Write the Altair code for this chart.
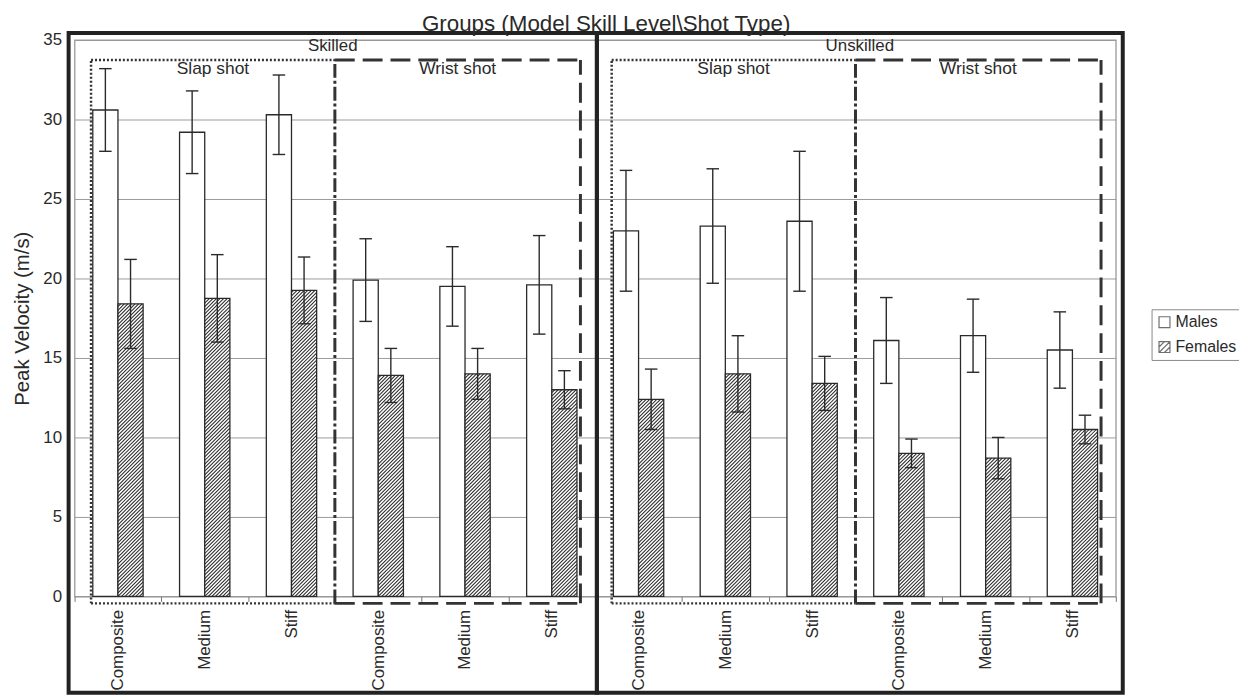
import json
import math
import altair as alt
import pandas as pd

# ---------------- data ----------------
skill_levels = ["Skilled", "Unskilled"]
shot_types = ["Slap shot", "Wrist shot"]
stick_models = ["Composite", "Medium", "Stiff"]
series_names = ["Males", "Females"]

male_mean = [30.6, 29.2, 30.3, 19.9, 19.5, 19.6, 23.0, 23.3, 23.6, 16.1, 16.4, 15.5]
male_sd = [2.6, 2.6, 2.5, 2.6, 2.5, 3.1, 3.8, 3.6, 4.4, 2.7, 2.3, 2.4]
female_mean = [18.4, 18.75, 19.25, 13.9, 14.0, 13.0, 12.4, 14.0, 13.4, 9.0, 8.7, 10.5]
female_sd = [2.8, 2.75, 2.1, 1.7, 1.6, 1.2, 1.9, 2.4, 1.7, 0.9, 1.3, 0.9]

y_ticks = [0, 5, 10, 15, 20, 25, 30, 35]
chart_title = "Groups (Model Skill Level\\Shot Type)"
y_title = "Peak Velocity (m/s)"

# ---------------- layout ----------------
W, H = 1048, 560
Y_MAX = 35
N = len(skill_levels) * len(shot_types) * len(stick_models)
PXX = W / N
PXY = H / Y_MAX
BAR_W = 0.29
CAP_HALF = 6.3 / PXX
FONT = "Liberation Sans"
INK = "#2a2a2a"

categories = []
for sk in skill_levels:
    for sh in shot_types:
        for m in stick_models:
            categories.append((sk, sh, m))
names = [c[2] for c in categories]

# bars
bar_rows = []
for i in range(N):
    for sex, means, sds, off in (("Males", male_mean, male_sd, -BAR_W),
                                 ("Females", female_mean, female_sd, 0.0)):
        x0 = i + 0.5 + off
        mean, sd = means[i], sds[i]
        cx = x0 + BAR_W / 2
        bar_rows.append(dict(idx=i, model=names[i], sex=sex, x=x0, x2=x0 + BAR_W,
                             zero=0.0, mean=mean, sd=sd, cx=cx,
                             lo=mean - sd, hi=mean + sd,
                             cl=cx - CAP_HALF, cr=cx + CAP_HALF))
bars = pd.DataFrame(bar_rows)
males = bars[bars.sex == "Males"]
females = bars[bars.sex == "Females"]

caps = pd.concat([
    bars.assign(cy=bars["lo"]),
    bars.assign(cy=bars["hi"]),
])

# hatch lines for the female bars ("////")
STEP = 3.6
hatch_rows = []
for _, r in females.iterrows():
    wpx = BAR_W * PXX
    hpx = r["mean"] * PXY
    k0 = math.ceil(-hpx / STEP)
    k1 = math.floor(wpx / STEP)
    for k in range(k0, k1 + 1):
        c = k * STEP
        u1 = max(0.0, c)
        u2 = min(wpx, hpx + c)
        if u2 - u1 < 0.6:
            continue
        hatch_rows.append(dict(x=r["x"] + u1 / PXX, y=(u1 - c) / PXY,
                               x2=r["x"] + u2 / PXX, y2=(u2 - c) / PXY))
hatch = pd.DataFrame(hatch_rows)

# frames and group boxes
FR_L, FR_R, DIV = -6 / PXX, 12 + 7 / PXX, 6 + 1.7 / PXX
FR_TOP, FR_BOT = Y_MAX + 7 / PXY, -97 / PXY
frame_edges = [FR_L, DIV, FR_R]
frames = pd.DataFrame([dict(x=frame_edges[g], x2=frame_edges[g + 1], y=FR_BOT, y2=FR_TOP,
                            label=skill_levels[g],
                            xc=(frame_edges[g] + frame_edges[g + 1]) / 2)
                       for g in range(len(skill_levels))])

BOX_TOP, BOX_BOT = Y_MAX - 20 / PXY, -7 / PXY
dotted, dashed, dashdot, shot_lab = [], [], [], []
for g in range(len(skill_levels)):
    s = g * 6
    xl, xm, xr = s + 0.19, s + 3.0, s + 5.83
    dotted += [dict(x=xl, x2=xl, y=BOX_BOT, y2=BOX_TOP),
               dict(x=xl, x2=xm, y=BOX_TOP, y2=BOX_TOP),
               dict(x=xl, x2=xm, y=BOX_BOT, y2=BOX_BOT)]
    dashed += [dict(x=xr, x2=xr, y=BOX_BOT, y2=BOX_TOP),
               dict(x=xm, x2=xr, y=BOX_TOP, y2=BOX_TOP),
               dict(x=xm, x2=xr, y=BOX_BOT, y2=BOX_BOT)]
    dashdot += [dict(x=xm, x2=xm, y=BOX_BOT, y2=BOX_TOP)]
    shot_lab += [dict(label=shot_types[0], xc=(xl + xm) / 2, y=Y_MAX - 34.5 / PXY),
                 dict(label=shot_types[1], xc=(xm + xr) / 2, y=Y_MAX - 34.5 / PXY)]
dotted, dashed, dashdot, shot_lab = map(pd.DataFrame, (dotted, dashed, dashdot, shot_lab))
title_df = pd.DataFrame([dict(label=chart_title, xc=N / 2 + 11 / PXX, y=Y_MAX + 9.5 / PXY)])
skill_lab = frames.assign(y=Y_MAX - 11.5 / PXY)

# ---------------- scales / axes ----------------
xs = alt.Scale(domain=[0, N], nice=False, zero=False)
ys = alt.Scale(domain=[0, Y_MAX], nice=False)

label_expr = ("datum.value % 1 === 0.5 ? " + json.dumps(names) +
              "[floor(datum.value)] : ''")
x_axis = alt.Axis(values=[k * 0.5 for k in range(2 * N + 1)], labelExpr=label_expr,
                  labelAngle=270, labelAlign="right", labelBaseline="middle",
                  labelFontSize=17, labelColor=INK, labelPadding=8, labelOverlap=False,
                  labelFlush=False, labelBound=False, tickSize=5, tickColor="#777",
                  tickOpacity={"condition": {"test": "datum.value % 1 === 0", "value": 1},
                               "value": 0},
                  domain=False, grid=False, title=None)
y_axis = alt.Axis(values=y_ticks, grid=True, gridColor="#9a9a9a", gridWidth=1, ticks=False,
                  domain=False, labelFontSize=17, labelPadding=13, labelColor=INK,
                  title=y_title, titleFontSize=20.5, titleFontWeight="normal",
                  titlePadding=10, titleColor=INK, titleFont=FONT)


def X(f):
    return alt.X(f, type="quantitative", scale=xs, axis=x_axis)


def Y(f):
    return alt.Y(f, type="quantitative", scale=ys, axis=y_axis)


male_layer = alt.Chart(males).mark_rect(fill="white", stroke=INK, strokeWidth=1.3).encode(
    x=X("x"), x2="x2", y=Y("zero"), y2="mean")

female_layer = alt.Chart(females).mark_rect(fill="white", stroke=INK, strokeWidth=1.3).encode(
    x=X("x"), x2="x2", y=Y("zero"), y2="mean")

hatch_layer = alt.Chart(hatch).mark_rule(stroke="#2a2a2a", strokeWidth=1.05).encode(
    x=X("x"), x2="x2", y=Y("y"), y2="y2")

err_layer = alt.Chart(bars).mark_rule(stroke=INK, strokeWidth=1.4).encode(
    x=X("cx"), y=Y("lo"), y2="hi")

cap_layer = alt.Chart(caps).mark_rule(stroke=INK, strokeWidth=1.4).encode(
    x=X("cl"), x2="cr", y=Y("cy"))

dotted_layer = alt.Chart(dotted).mark_rule(stroke="#333", strokeWidth=2.5,
                                           strokeDash=[2, 2]).encode(
    x=X("x"), x2="x2", y=Y("y"), y2="y2")
dashed_layer = alt.Chart(dashed).mark_rule(stroke="#333", strokeWidth=3,
                                           strokeDash=[20, 8]).encode(
    x=X("x"), x2="x2", y=Y("y"), y2="y2")
dashdot_layer = alt.Chart(dashdot).mark_rule(stroke="#333", strokeWidth=3,
                                             strokeDash=[14, 3, 3, 3]).encode(
    x=X("x"), x2="x2", y=Y("y"), y2="y2")

frame_layer = alt.Chart(frames).mark_rect(fillOpacity=0, stroke="#222", strokeWidth=4).encode(
    x=X("x"), x2="x2", y=Y("y"), y2="y2")

title_layer = alt.Chart(title_df).mark_text(font=FONT, fontSize=22.5, color=INK,
                                            baseline="alphabetic").encode(
    x=X("xc"), y=Y("y"), text="label")
skill_layer = alt.Chart(skill_lab).mark_text(font=FONT, fontSize=17, color=INK,
                                             baseline="alphabetic").encode(
    x=X("xc"), y=Y("y"), text="label")
shot_layer = alt.Chart(shot_lab).mark_text(font=FONT, fontSize=17.5, color=INK,
                                           baseline="alphabetic").encode(
    x=X("xc"), y=Y("y"), text="label")

sq_hatch = "M-1,-1L1,-1L1,1L-1,1Z M-1,1L1,-1 M-1,0L0,-1 M0,1L1,0"
legend_layer = alt.Chart(bars).transform_filter("false").mark_point(
    filled=False, color="#333", strokeWidth=1.2).encode(
    x=X("cx"), y=Y("mean"),
    shape=alt.Shape("sex:N", scale=alt.Scale(domain=series_names, range=["square", sq_hatch]),
                    legend=alt.Legend(title=None, orient="none", legendX=1084, legendY=271,
                                      strokeColor="#8a8a8a", fillColor="white", padding=5,
                                      symbolSize=121, symbolStrokeWidth=1.2,
                                      symbolStrokeColor="#333",
                                      labelFont=FONT, labelFontSize=16, labelColor=INK,
                                      labelOffset=3, rowPadding=9)))

chart = alt.layer(
    male_layer, female_layer, hatch_layer, err_layer, cap_layer,
    dotted_layer, dashed_layer, dashdot_layer, frame_layer,
    title_layer, skill_layer, shot_layer, legend_layer,
).properties(
    width=W, height=H,
    autosize=alt.AutoSizeParams(type="none"),
    padding={"left": 67, "top": 30, "right": 124, "bottom": 100},
).configure(
    font=FONT, background="white"
).configure_view(
    stroke="#9a9a9a", strokeWidth=1.3
).configure_axis(
    labelFont=FONT, titleFont=FONT
)

chart.save("out.html", embed_options={"renderer": "svg", "actions": False})
